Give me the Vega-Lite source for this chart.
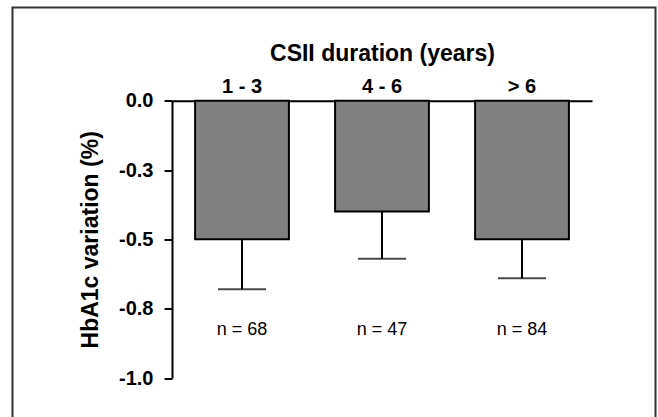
{
  "$schema": "https://vega.github.io/schema/vega-lite/v6.json",
  "width": 643,
  "height": 420,
  "autosize": {"type": "none"},
  "padding": {"left": 12.5, "top": 7.5, "right": 2.5, "bottom": 0},
  "background": "white",
  "config": {"view": {"stroke": "#333333", "strokeWidth": 2}},
  "data": {
    "values": [
      {"group": "1 - 3", "mean": -0.5, "lower": -0.68, "nlabel": "n = 68"},
      {"group": "4 - 6", "mean": -0.4, "lower": -0.57, "nlabel": "n = 47"},
      {"group": "> 6", "mean": -0.5, "lower": -0.64, "nlabel": "n = 84"}
    ]
  },
  "encoding": {
    "x": {
      "field": "group",
      "type": "nominal",
      "sort": null,
      "scale": {"range": [159.5, 579.5], "paddingInner": 0.33, "paddingOuter": 0.165},
      "axis": {
        "orient": "top",
        "offset": -93.2,
        "title": "CSII duration (years)",
        "labelAngle": 0,
        "ticks": false,
        "domain": true,
        "domainColor": "black",
        "domainWidth": 2,
        "grid": false,
        "labelFont": "Liberation Sans",
        "labelFontWeight": "bold",
        "labelFontSize": 20,
        "labelColor": "black",
        "labelPadding": 4,
        "titleFont": "Liberation Sans",
        "titleFontSize": 23,
        "titleFontWeight": "bold",
        "titleColor": "black",
        "titlePadding": 11
      }
    }
  },
  "layer": [
    {
      "mark": {"type": "bar", "fill": "#808080", "stroke": "black", "strokeWidth": 2},
      "encoding": {
        "y": {
          "field": "mean",
          "type": "quantitative",
          "scale": {"domain": [-1, 0], "range": [370.5, 93.2], "nice": false, "zero": false},
          "axis": {
            "orient": "left",
            "offset": -159.5,
            "values": [0, -0.25, -0.5, -0.75, -1],
            "labelExpr": "datum.value == 0 ? '0.0' : '-' + format(-datum.value, '.1f')",
            "title": "HbA1c variation (%)",
            "grid": false,
            "tickSize": 8,
            "tickWidth": 2,
            "tickColor": "black",
            "domainColor": "black",
            "domainWidth": 2,
            "labelFont": "Liberation Sans",
            "labelFontSize": 20,
            "labelFontWeight": "bold",
            "labelColor": "black",
            "labelPadding": 11,
            "titleFont": "Liberation Sans",
            "titleFontSize": 23,
            "titleFontWeight": "bold",
            "titleColor": "black",
            "titlePadding": 16
          }
        }
      }
    },
    {
      "mark": {"type": "rule", "strokeWidth": 2, "color": "black"},
      "encoding": {
        "y": {"field": "mean", "type": "quantitative"},
        "y2": {"field": "lower"}
      }
    },
    {
      "mark": {"type": "tick", "size": 48, "thickness": 2, "color": "black"},
      "encoding": {
        "y": {"field": "lower", "type": "quantitative"}
      }
    },
    {
      "mark": {"type": "text", "font": "Liberation Sans", "fontSize": 18, "baseline": "alphabetic", "color": "black"},
      "encoding": {
        "y": {"datum": -0.846},
        "text": {"field": "nlabel"}
      }
    }
  ]
}
